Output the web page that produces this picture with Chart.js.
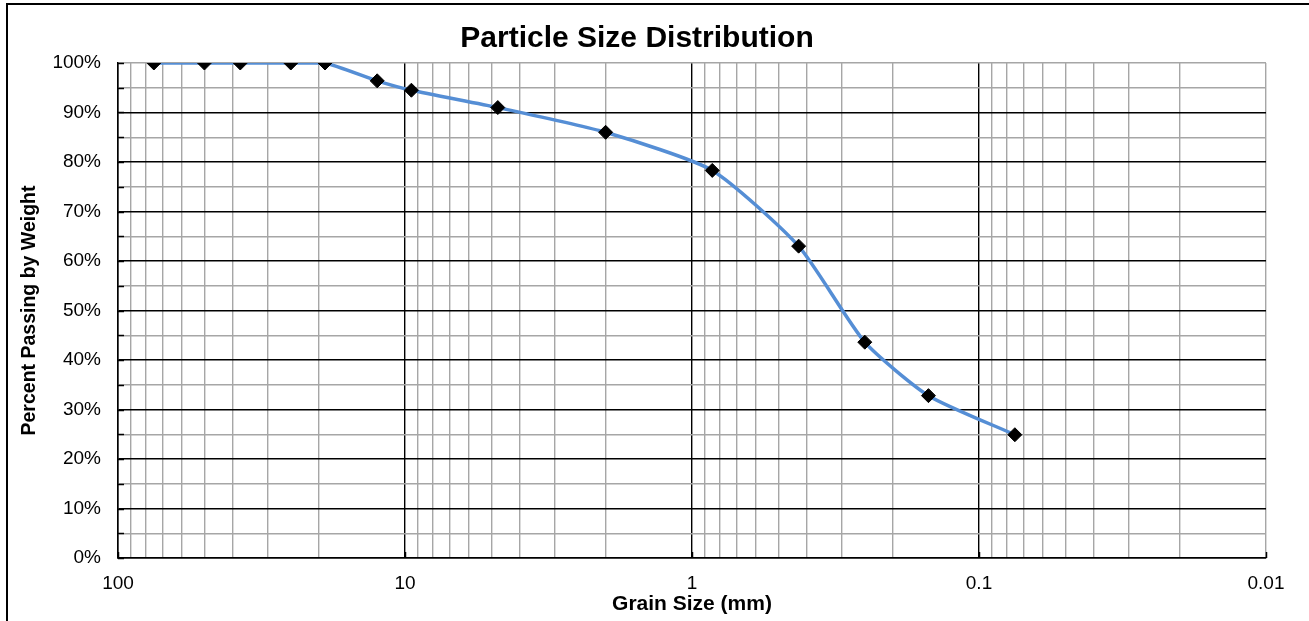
<!DOCTYPE html>
<html>
<head>
<meta charset="utf-8">
<script src="https://cdn.jsdelivr.net/npm/chart.js@4.4.1/dist/chart.umd.min.js"></script>
<style>
  html, body { margin: 0; padding: 0; background: #fff; overflow: hidden; }
  #wrap { position: relative; width: 1309px; height: 621px; }
  #frame { position: absolute; left: 6px; top: 3px; width: 2000px; height: 2000px; border: 2px solid #000; box-sizing: border-box; pointer-events: none; }
  canvas { position: absolute; left: 0; top: 0; }
</style>
</head>
<body>
<div id="wrap">
  <canvas id="c" width="1309" height="621"></canvas>
  <div id="frame"></div>
</div>
<script>
// ---- data ----
const grainSizes = [75, 50, 37.5, 25, 19, 12.5, 9.5, 4.75, 2, 0.85, 0.425, 0.25, 0.15, 0.075];
const percentPassing = [100, 100, 100, 100, 100, 96.4, 94.5, 91.0, 86.0, 78.3, 63.0, 43.6, 32.8, 24.9];
const xDecades = [100, 10, 1, 0.1, 0.01];
const xDecadeLabels = ['100', '10', '1', '0.1', '0.01'];
const minorMultipliers = [2, 3, 4, 5, 6, 7, 8, 9];
const yTickValues = [0, 10, 20, 30, 40, 50, 60, 70, 80, 90, 100];

const FONT = '"Liberation Sans", Arial, sans-serif';
const GRAY = '#a6a6a6';

const points = grainSizes.map((g, i) => ({ x: g, y: percentPassing[i] }));

function isDecade(v) {
  return xDecades.some(d => Math.abs(v - d) / d < 1e-6);
}
function decadeLabel(v) {
  for (let i = 0; i < xDecades.length; i++) {
    if (Math.abs(v - xDecades[i]) / xDecades[i] < 1e-6) return xDecadeLabels[i];
  }
  return '';
}

const innerTicks = {
  id: 'innerTicks',
  beforeDatasetsDraw(chart) {
    const { ctx, chartArea: a, scales: { x, y } } = chart;
    ctx.save();
    ctx.strokeStyle = '#000';
    ctx.lineWidth = 1.5;
    for (let v = 0; v <= 100; v += 5) {
      const py = Math.round(y.getPixelForValue(v)) + 0.5;
      ctx.beginPath(); ctx.moveTo(a.left, py); ctx.lineTo(a.left + 6, py); ctx.stroke();
    }
    xDecades.forEach(d => {
      const px = Math.round(x.getPixelForValue(d)) + 0.5;
      ctx.beginPath(); ctx.moveTo(px, a.bottom); ctx.lineTo(px, a.bottom - 6); ctx.stroke();
    });
    ctx.restore();
  }
};

new Chart(document.getElementById('c'), {
  type: 'line',
  data: {
    datasets: [{
      data: points,
      borderColor: '#558ED5',
      borderWidth: 3.5,
      tension: 0.2,
      pointStyle: 'rectRot',
      pointRadius: 7,
      pointBackgroundColor: '#000',
      pointBorderColor: '#000',
      pointBorderWidth: 1
    }]
  },
  options: {
    responsive: false,
    animation: false,
    events: [],
    layout: { padding: { left: 8, right: 43, top: 0, bottom: 0 } },
    plugins: {
      legend: { display: false },
      tooltip: { enabled: false },
      title: {
        display: true,
        text: 'Particle Size Distribution',
        color: '#000',
        font: { family: FONT, size: 30, weight: 'bold' },
        padding: { top: 21, bottom: 6 }
      }
    },
    scales: {
      x: {
        type: 'logarithmic',
        reverse: true,
        min: 0.01,
        max: 100,
        afterBuildTicks(scale) {
          const t = [];
          xDecades.forEach(d => {
            t.push({ value: d });
            if (d < 100) minorMultipliers.forEach(m => t.push({ value: d * m }));
          });
          scale.ticks = t.sort((a, b) => a.value - b.value);
        },
        afterFit(scale) { scale.height = 63; },
        grid: {
          drawTicks: false,
          color: ctx => {
            const v = ctx.tick ? ctx.tick.value : 0;
            return (isDecade(v) && v > 0.02) ? '#000' : GRAY;
          },
          lineWidth: 1.4
        },
        border: { color: '#000', width: 1.5 },
        ticks: {
          autoSkip: false,
          maxRotation: 0,
          minRotation: 0,
          padding: 14,
          color: '#000',
          font: { family: FONT, size: 19 },
          callback: (v) => decadeLabel(v)
        },
        title: {
          display: true,
          text: 'Grain Size (mm)',
          color: '#000',
          font: { family: FONT, size: 21, weight: 'bold' },
          padding: { top: 0, bottom: 4 }
        }
      },
      y: {
        min: 0,
        max: 100,
        afterBuildTicks(scale) {
          const t = [];
          for (let v = 0; v <= 100; v += 5) t.push({ value: v });
          scale.ticks = t;
        },
        afterFit(scale) { scale.width = 110; },
        grid: {
          drawTicks: false,
          color: ctx => {
            const v = ctx.tick ? ctx.tick.value : 0;
            return (v % 10 === 0 && v < 100) ? '#000' : GRAY;
          },
          lineWidth: 1.4
        },
        border: { color: '#000', width: 1.5 },
        ticks: {
          autoSkip: false,
          padding: 17,
          color: '#000',
          font: { family: FONT, size: 19 },
          callback: (v) => (yTickValues.includes(v) ? v + '%' : '')
        },
        title: {
          display: true,
          text: 'Percent Passing by Weight',
          color: '#000',
          font: { family: FONT, size: 19.5, weight: 'bold' },
          padding: { top: 10, bottom: 0 }
        }
      }
    }
  },
  plugins: [innerTicks]
});
</script>
</body>
</html>
